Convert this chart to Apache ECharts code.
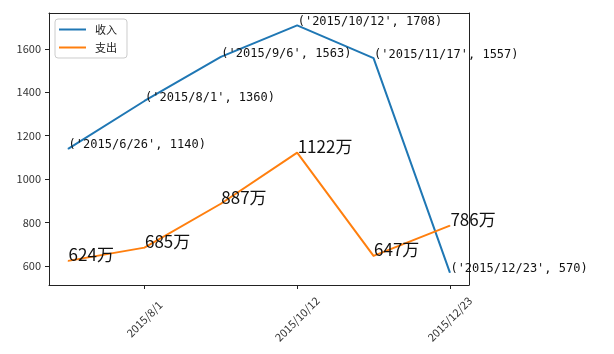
<!DOCTYPE html>
<html>
<head>
<meta charset="utf-8">
<script src="https://cdn.jsdelivr.net/npm/echarts@6/dist/echarts.min.js"></script>
<style>html,body{margin:0;background:#fff}#main{width:614px;height:354px}</style>
</head>
<body>
<div id="main"></div>
<script>
let dates = ['2015/6/26', '2015/8/1', '2015/9/6', '2015/10/12', '2015/11/17', '2015/12/23'];
let income = [1140, 1360, 1563, 1708, 1557, 570];
let expense = [624, 685, 887, 1122, 647, 786];
let xTicks = ['2015/8/1', '2015/10/12', '2015/12/23'];
let yTicks = [600, 800, 1000, 1200, 1400, 1600];

let cjk = 'Noto Sans CJK SC';
let mono = 'DejaVu Sans Mono';
let spine = {show: true, onZero: false, lineStyle: {color: '#222', width: 1}};

// x 用序号, 两端各留 0.25 的边距 (同 matplotlib 5%)
let pts = function (ary) {
  return ary.map((v, i) => [i, v]);
};

// 上/右边框, 只画轴线
let frame = function (pos, min, max) {
  return {
    type: 'value', position: pos, min: min, max: max,
    axisLine: spine, axisTick: {show: false}, axisLabel: {show: false}, splitLine: {show: false}
  };
};

let option = {
  animation: false,
  backgroundColor: '#fff',
  grid: {left: 49, top: 13, width: 420, height: 272},
  legend: {
    orient: 'vertical', left: 55, top: 19,
    padding: [5, 10, 5, 4], itemGap: 7,
    itemWidth: 27, itemHeight: 2, icon: 'rect',
    borderColor: '#ccc', borderWidth: 1, borderRadius: 3, backgroundColor: '#fff',
    textStyle: {fontFamily: cjk, fontSize: 11, color: '#222', padding: [0, 0, 0, 4]},
    data: ['收入', '支出']
  },
  xAxis: [{
    type: 'value', min: -0.25, max: 5.25,
    splitLine: {show: false},
    axisLine: spine,
    axisTick: {show: true, length: 4, lineStyle: {color: '#222'},
      customValues: xTicks.map(d => dates.indexOf(d))},
    axisLabel: {
      customValues: xTicks.map(d => dates.indexOf(d)),
      rotate: 45, align: 'center', verticalAlign: 'middle', margin: 34,
      fontFamily: cjk, fontSize: 11, color: '#333',
      formatter: v => dates[v]
    }
  }, frame('top', -0.25, 5.25)],
  yAxis: [{
    type: 'value', min: 513, max: 1765,
    splitLine: {show: false},
    axisLine: spine,
    axisTick: {show: true, length: 4, lineStyle: {color: '#222'}, customValues: yTicks},
    axisLabel: {customValues: yTicks, fontFamily: cjk, fontSize: 11, color: '#333', margin: 8,
      formatter: v => String(v)}
  }, frame('right', 513, 1765)],
  series: [
    {
      name: '收入', type: 'line', data: pts(income),
      symbol: 'circle', symbolSize: 1, showSymbol: true,
      color: '#1f77b4', lineStyle: {width: 2},
      label: {
        show: true, position: [0, 0], align: 'left', verticalAlign: 'bottom', offset: [1, 3],
        fontFamily: mono, fontSize: 12, color: '#111',
        formatter: p => "('" + dates[p.data[0]] + "', " + p.data[1] + ')'
      }
    },
    {
      name: '支出', type: 'line', data: pts(expense),
      symbol: 'circle', symbolSize: 1, showSymbol: true,
      color: '#ff7f0e', lineStyle: {width: 2},
      label: {
        show: true, position: [0, 0], align: 'left', verticalAlign: 'bottom', offset: [1, 3],
        fontFamily: cjk, fontSize: 17, color: '#111',
        formatter: p => p.data[1] + '万'
      }
    }
  ]
};

let chart = echarts.init(document.getElementById('main'));
chart.setOption(option);
</script>
</body>
</html>
